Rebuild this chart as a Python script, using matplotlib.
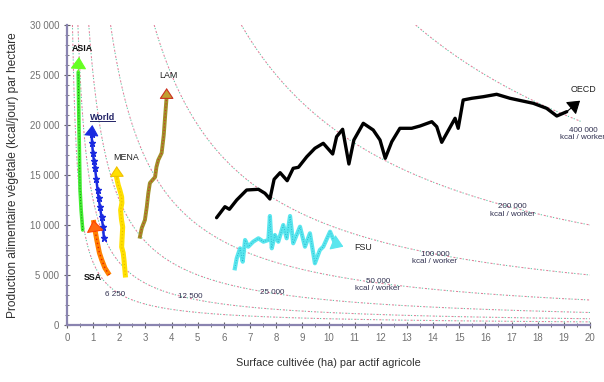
import matplotlib
matplotlib.use("Agg")
import matplotlib.pyplot as plt
import numpy as np
from matplotlib.ticker import FuncFormatter, MultipleLocator
from matplotlib.lines import Line2D

plt.rcParams['font.family'] = ['Liberation Sans', 'DejaVu Sans']

# ---------------- data ----------------
iso_levels = [6250, 12500, 25000, 50000, 100000, 200000, 400000]
iso_xmax = [20, 20, 20, 20, 20, 20, 19.7]
iso_labels = ["6 250", "12 500", "25 000", "50 000\nkcal / worker", "100 000\nkcal / worker",
              "200 000\nkcal / worker", "400 000\nkcal / worker"]
iso_label_x = [1.84, 4.70, 7.83, 11.89, 14.07, 17.02, 19.73]
iso_label_y = [3000, 2900, 3200, 4000, 6700, 11430, 19100]

asia_x = [0.60, 0.54, 0.50, 0.46, 0.43, 0.46]
asia_y = [9500, 11500, 13500, 19500, 25300, 26800]

world_x = [1.41, 1.38, 1.32, 1.26, 1.21, 1.17, 1.12, 1.07, 1.03, 0.99, 0.96, 0.94, 0.97]
world_y = [8700, 9800, 10800, 11800, 12700, 13500, 14600, 15700, 16400, 17200, 18200, 19100, 20000]

mena_x = [2.23, 2.18, 2.15, 2.09, 2.11, 2.13, 2.08, 2.05, 2.10, 2.09, 2.02, 1.96, 1.91, 1.90]
mena_y = [5000, 6500, 7200, 7800, 8800, 9800, 10600, 11500, 12200, 12800, 13500, 14000, 14600, 15900]

ssa_x = [1.62, 1.45, 1.33, 1.24, 1.14, 1.07, 1.01]
ssa_y = [5000, 5700, 6500, 7200, 8500, 9500, 10500]

lam_x = [2.79, 2.86, 2.98, 3.05, 3.11, 3.17, 3.37, 3.42, 3.49, 3.62, 3.70, 3.75, 3.81, 3.81]
lam_y = [8830, 9700, 10500, 11800, 13200, 14200, 14800, 15800, 16500, 17200, 19000, 20800, 22800, 23700]

oecd_x = [5.72, 6.04, 6.21, 6.49, 6.87, 7.32, 7.57, 7.76, 7.92, 8.15, 8.42, 8.65, 8.85, 9.17,
          9.48, 9.80, 10.16, 10.31, 10.54, 10.78, 10.97, 11.33, 11.71, 11.97, 12.17, 12.42,
          12.73, 13.18, 13.50, 13.95, 14.14, 14.33, 14.84, 14.96, 15.15, 15.48, 15.92, 16.43,
          16.94, 17.83, 18.34, 18.73, 19.11, 19.62]
oecd_y = [10730, 11830, 11570, 12500, 13500, 13570, 13170, 12600, 14570, 15230, 14430, 15670,
          15770, 16830, 17670, 18170, 17100, 18830, 19570, 16100, 18500, 20170, 19500, 18500,
          16670, 18330, 19670, 19670, 19900, 20330, 19830, 18270, 20670, 19670, 22500, 22670,
          22830, 23070, 22670, 22170, 21670, 20900, 21330, 22430]

fsu_x = [6.42, 6.49, 6.62, 6.72, 6.81, 6.93, 7.12, 7.32, 7.51, 7.70, 7.76, 7.83, 7.95, 8.08,
         8.27, 8.40, 8.53, 8.65, 8.91, 9.10, 9.29, 9.48, 9.67, 9.80, 10.06, 10.25, 10.57]
fsu_y = [5670, 6670, 7670, 6330, 8500, 7830, 8330, 8670, 8330, 8500, 10900, 7670, 9000, 8330,
         10000, 8670, 10900, 8170, 9830, 7830, 9170, 6170, 7500, 7830, 9330, 8170, 7830]

region_names = ["ASIA", "World", "MENA", "SSA", "LAM", "FSU", "OECD"]
region_label_x = [0.58, 1.35, 2.26, 0.97, 3.86, 11.0, 19.76]
region_label_y = [27670, 20800, 16770, 4800, 24900, 7700, 23600]

x_ticks = list(range(0, 21))
y_ticks = [0, 5000, 10000, 15000, 20000, 25000, 30000]

# ---------------- figure ----------------
fig = plt.figure(figsize=(6.04, 3.82), dpi=100)
ax = fig.add_axes([67/604, 57/382, 523/604, 300/382])
ax.set_xlim(0, 20)
ax.set_ylim(0, 30000)

# iso-productivity curves
for K, xm in zip(iso_levels, iso_xmax):
    xs = np.linspace(K / 30000, xm, 400)
    ys = K / xs
    ax.plot(xs, ys, color='#e0809a', lw=0.75, ls=(0, (2.0, 4.0)), zorder=1)
    ax.plot(xs, ys, color='#60c8a8', lw=0.75, ls=(3, (1.2, 4.8)), zorder=1)
for txt, lx, ly in zip(iso_labels, iso_label_x, iso_label_y):
    ax.text(lx, ly, txt, fontsize=5.8, color='#303050', ha='center', va='center',
            linespacing=1.1, clip_on=False, zorder=5)


def arrow(xs, ys, color, ec=None, ms=9):
    ax.annotate('', xy=(xs[-1], ys[-1]), xytext=(xs[-2], ys[-2]),
                arrowprops=dict(arrowstyle='-|>,head_length=0.75,head_width=0.5',
                                color=color, ec=ec if ec else color, lw=0.8,
                                shrinkA=0, shrinkB=0, mutation_scale=ms),
                zorder=6)


# ASIA
ax.plot(asia_x[:-1], asia_y[:-1], color='#44ee33', lw=2.6, solid_capstyle='round', zorder=3)
ax.plot(asia_x[:-1], asia_y[:-1], color='#118811', lw=0.7, ls=(0, (1, 2)), zorder=3)
arrow(asia_x, asia_y, '#66ff22', ms=10)

# World
ax.plot(world_x[:-1], world_y[:-1], color='#1a2ae0', lw=1.8, marker='*', ms=4.5,
        mec='#1a2ae0', zorder=3)
arrow(world_x, world_y, '#1a2ae0')

# MENA
ax.plot(mena_x[:-1], mena_y[:-1], color='#ffe000', lw=3.6, solid_joinstyle='round', zorder=3)
ax.plot(mena_x[:-1], mena_y[:-1], color='#e8b800', lw=0.8, ls=(0, (1, 2)), zorder=3)
arrow(mena_x, mena_y, '#ffe000', ec='#f0c000')

# SSA
ax.plot(ssa_x, ssa_y, color='#ff8000', lw=3.6, solid_capstyle='butt', zorder=3)
ax.plot(ssa_x, ssa_y, color='#e82000', lw=1.0, ls=(0, (1, 2)), zorder=3)
ax.annotate('', xy=(ssa_x[-1], ssa_y[-1]), xytext=(ssa_x[-2], ssa_y[-2]),
            arrowprops=dict(arrowstyle='-|>,head_length=0.75,head_width=0.55', color='#ff6a10',
                            ec='#ff4400', lw=0.8, shrinkA=0, shrinkB=0, mutation_scale=10),
            zorder=6)

# LAM
ax.plot(lam_x[:-1], lam_y[:-1], color='#a09028', lw=2.8, solid_joinstyle='round', zorder=3)
ax.plot(lam_x[:-1], lam_y[:-1], color='#d03030', lw=0.8, ls=(0, (1, 2)), zorder=3)
arrow(lam_x, lam_y, '#c0a030', ec='#cc3020')

# OECD
ax.plot(oecd_x[:-1], oecd_y[:-1], color='black', lw=2.4, solid_joinstyle='round',
        solid_capstyle='round', zorder=4)
arrow(oecd_x, oecd_y, 'black', ms=10)

# FSU
ax.plot(fsu_x[:-1], fsu_y[:-1], color='#5ae6ee', lw=3.0, solid_joinstyle='round', zorder=3)
ax.plot(fsu_x[:-1], fsu_y[:-1], color='#20b0c8', lw=0.6, ls=(0, (1, 2)), zorder=3)
arrow(fsu_x, fsu_y, '#5ae6ee', ms=10)

# region labels
label_style = {
    "ASIA": dict(weight='bold', color='#111111'),
    "World": dict(weight='bold', color='#222266'),
    "MENA": dict(weight='normal', color='#222222'),
    "SSA": dict(weight='bold', color='#111111'),
    "LAM": dict(weight='normal', color='#222222'),
    "FSU": dict(weight='normal', color='#222222'),
    "OECD": dict(weight='normal', color='#222222'),
}
texts = {}
for name, lx, ly in zip(region_names, region_label_x, region_label_y):
    ha = 'left' if name == 'FSU' else 'center'
    texts[name] = ax.text(lx, ly, name, fontsize=6.4, ha=ha, va='center', zorder=7,
                          clip_on=False, **label_style[name])

# axes styling
for s in ['top', 'right']:
    ax.spines[s].set_visible(False)
for s in ['left', 'bottom']:
    ax.spines[s].set_color('#8a84b0')
    ax.spines[s].set_linewidth(1.6)
ax.set_xticks(x_ticks)
ax.set_yticks(y_ticks)
ax.xaxis.set_minor_locator(MultipleLocator(0.5))
ax.yaxis.set_minor_locator(MultipleLocator(1000))
ax.yaxis.set_major_formatter(FuncFormatter(lambda v, p: f"{int(v):,}".replace(",", " ")))
ax.tick_params(which='major', direction='inout', length=5, width=0.8, color='#606060',
               labelsize=6.9, labelcolor='#707070', pad=3)
ax.tick_params(which='minor', direction='inout', length=3, width=0.6, color='#606060')
ax.set_xlabel("Surface cultivée (ha) par actif agricole", fontsize=7.8, color='#303030',
              labelpad=11)
ax.set_ylabel("Production alimentaire végétale (kcal/jour) par hectare", fontsize=8.6,
              color='#303030', labelpad=8)

# underline "World"
fig.canvas.draw()
bb = texts["World"].get_window_extent()
fig.add_artist(Line2D([bb.x0 / fig.bbox.width, bb.x1 / fig.bbox.width],
                      [(bb.y0 + 0.3) / fig.bbox.height, (bb.y0 + 0.3) / fig.bbox.height],
                      color='#222266', lw=0.7, transform=fig.transFigure))

fig.savefig("out.png", dpi=100)
